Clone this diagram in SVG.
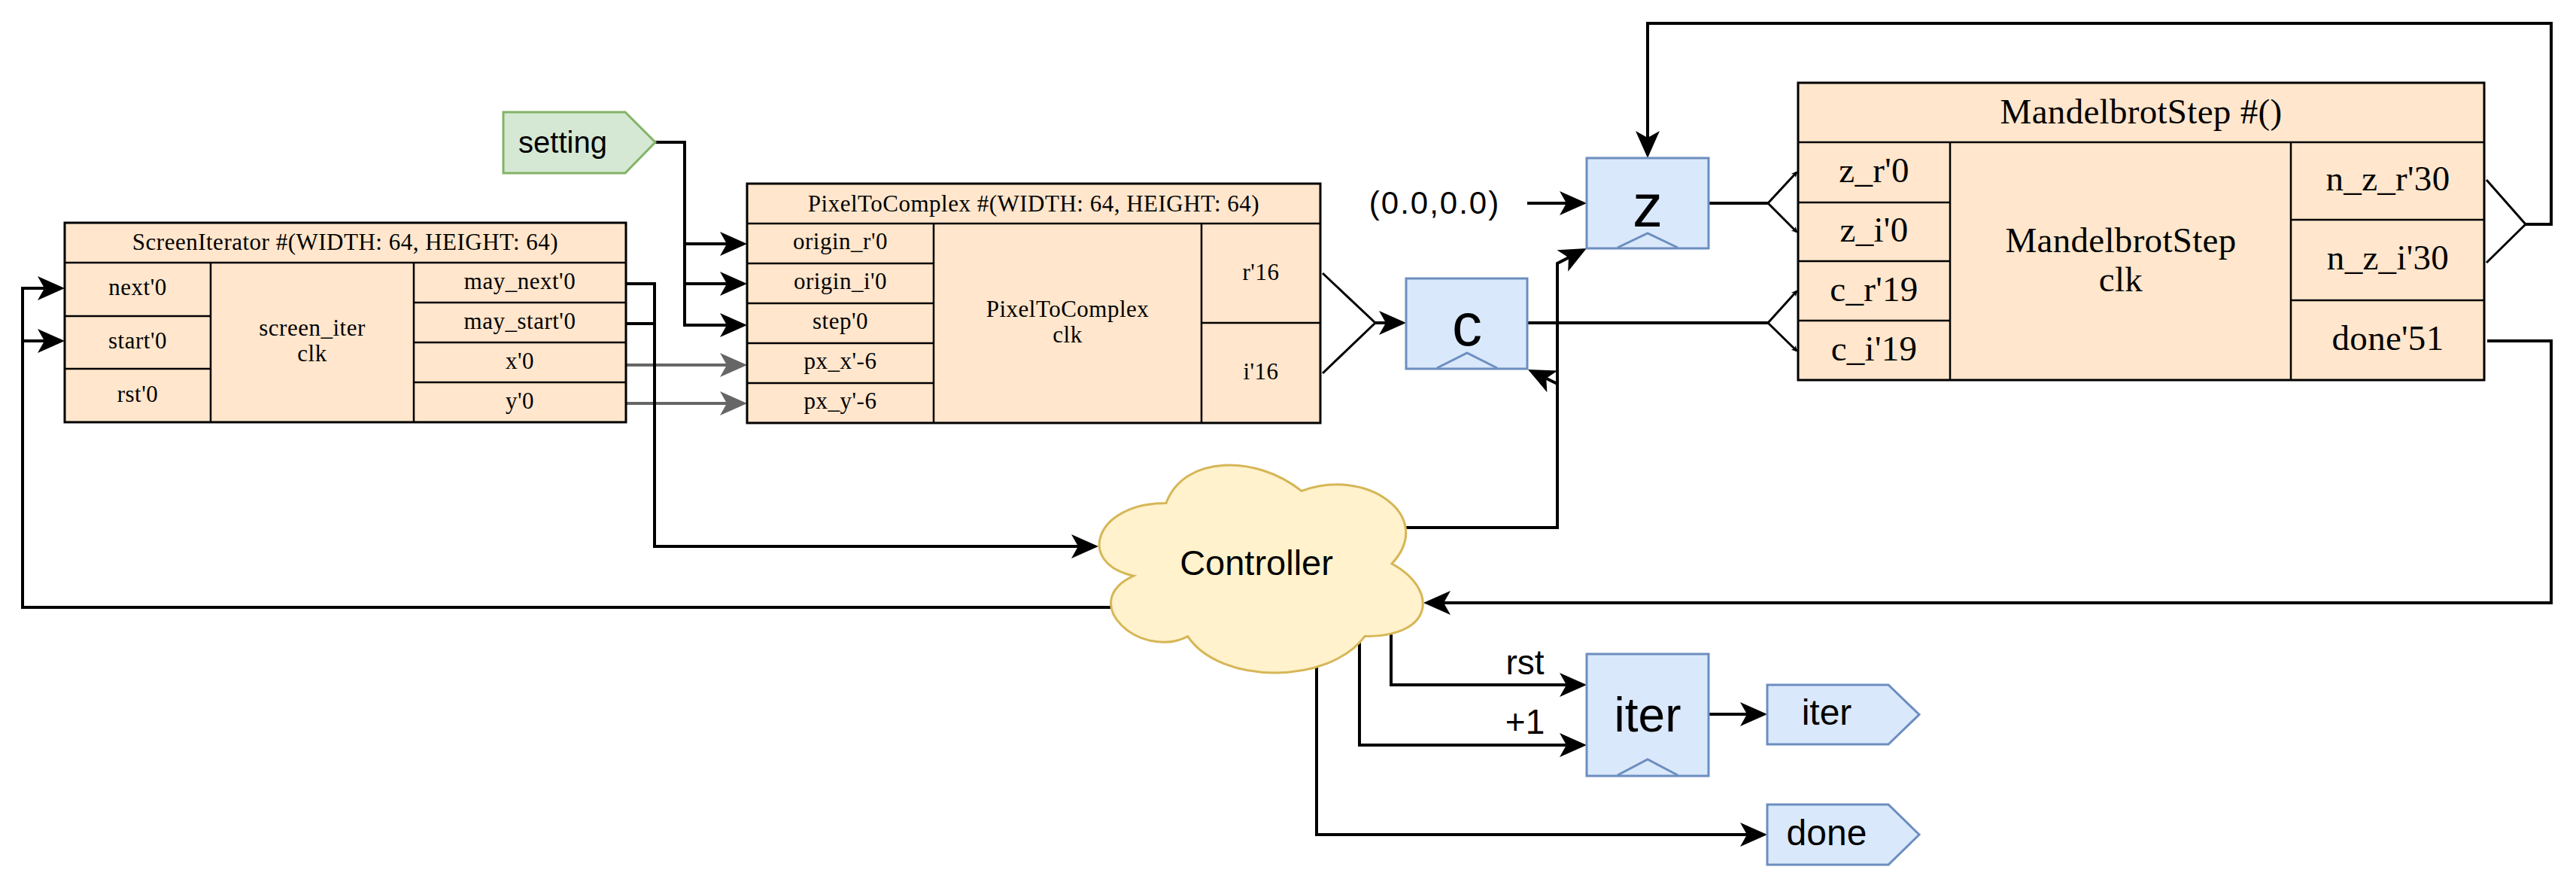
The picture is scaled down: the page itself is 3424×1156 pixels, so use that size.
<svg xmlns="http://www.w3.org/2000/svg" width="3424" height="1156" viewBox="0 0 3424 1156">
<style>
.bg{fill:#ffffff}
.blk{fill:#ffe6cc;stroke:#000;stroke-width:3}
.ln{fill:none;stroke:#000;stroke-width:2.5}
.reg{fill:#dae8fc;stroke:#6c8ebf;stroke-width:3}
.clkm{fill:none;stroke:#6c8ebf;stroke-width:3}
.outp{fill:#dae8fc;stroke:#6c8ebf;stroke-width:3}
.inp{fill:#d5e8d4;stroke:#82b366;stroke-width:3}
.cloud{fill:#fff2cc;stroke:#d6b656;stroke-width:3}
.serif{font-family:"Liberation Serif","Times New Roman",serif;font-size:31px;letter-spacing:0.5px;fill:#000;text-anchor:middle}
.serifL{font-family:"Liberation Serif","Times New Roman",serif;font-size:47px;letter-spacing:0.3px;fill:#000;text-anchor:middle}
.sans{font-family:"Liberation Sans",Arial,sans-serif;fill:#000;text-anchor:middle}
.c{fill:none;stroke:#000;stroke-width:4}
.cg{fill:none;stroke:#666666;stroke-width:4}
.ct{fill:none;stroke:#000;stroke-width:3}
.a{marker-end:url(#arr)}
.ag{marker-end:url(#arrg)}
.as{marker-end:url(#arrs)}
</style>
<defs>
<marker id="arr" viewBox="-32 -20 44 40" refX="0" refY="0" markerWidth="44" markerHeight="40" markerUnits="userSpaceOnUse" orient="auto" overflow="visible">
<path d="M8,0 L-28,-16 L-19,0 L-28,16 Z" fill="#000"/>
</marker>
<marker id="arrg" viewBox="-32 -20 44 40" refX="0" refY="0" markerWidth="44" markerHeight="40" markerUnits="userSpaceOnUse" orient="auto" overflow="visible">
<path d="M8,0 L-28,-16 L-19,0 L-28,16 Z" fill="#666666"/>
</marker>
<marker id="arrs" viewBox="-10 -6 14 12" refX="0" refY="0" markerWidth="14" markerHeight="12" markerUnits="userSpaceOnUse" orient="auto" overflow="visible">
<path d="M2,0 L-6,-4 L-4,0 L-6,4 Z" fill="#000"/>
</marker>
</defs>
<rect class="bg" x="0" y="0" width="3424" height="1156"/>

<g id="connectors">
<!-- setting to PixelToComplex -->
<path class="c a" d="M871,189 H910 V324 H985"/>
<path class="c a" d="M910,324 V377 H985"/>
<path class="c a" d="M910,377 V432 H985"/>
<!-- x, y to px -->
<path class="cg ag" d="M832,485 H985"/>
<path class="cg ag" d="M832,536 H985"/>
<!-- may_next / may_start to Controller -->
<path class="c a" d="M832,377 H870 V726 H1452"/>
<path class="c" d="M832,430 H870"/>
<!-- Controller to next / start -->
<path class="c a" d="M1480,807 H30 V383 H78"/>
<path class="c a" d="M30,453 H78"/>
<!-- PixelToComplex r,i to c -->
<path class="ct" d="M1758,363 L1828,429 L1758,496"/>
<path class="c a" d="M1828,429 H1861"/>
<!-- init to z -->
<path class="c a" d="M2030,270 H2101"/>
<!-- z to MandelbrotStep -->
<path class="c" d="M2271,270 H2350"/>
<path class="ct as" d="M2350,270 L2388,229"/>
<path class="ct as" d="M2350,270 L2388,308"/>
<!-- c to MandelbrotStep -->
<path class="c" d="M2030,429 H2350"/>
<path class="ct as" d="M2350,429 L2388,387"/>
<path class="ct as" d="M2350,429 L2388,466"/>
<!-- MandelbrotStep n_z to z -->
<path class="ct" d="M3305,239 L3357,298 L3305,349"/>
<path class="c a" d="M3357,298 H3391 V31 H2190 V202"/>
<!-- done'51 to Controller -->
<path class="c a" d="M3306,453 H3391 V801 H1900"/>
<!-- Controller to clocks -->
<path class="c a" d="M1866,701 H2070 V350 L2101.8,333.6"/>
<path class="c a" d="M2070,701 V510 L2038.2,494.5"/>
<!-- Controller to iter -->
<path class="c a" d="M1849,840 V910 H2101"/>
<path class="c a" d="M1807,852 V990 H2101"/>
<path class="c a" d="M1750,880 V1109 H2341"/>
<!-- iter to output -->
<path class="c a" d="M2271,949 H2341"/>
</g>

<g id="screen_iterator">
<rect class="blk" x="86" y="296" width="746" height="265"/>
<path class="ln" d="M86,349 H832 M280,349 V561 M550,349 V561 M86,420 H280 M86,490 H280 M550,402 H832 M550,455 H832 M550,508 H832"/>
<text class="serif" x="459" y="332">ScreenIterator #(WIDTH: 64, HEIGHT: 64)</text>
<text class="serif" x="183" y="392">next'0</text>
<text class="serif" x="183" y="463">start'0</text>
<text class="serif" x="183" y="534">rst'0</text>
<text class="serif" x="415" y="446">screen_iter</text>
<text class="serif" x="415" y="480">clk</text>
<text class="serif" x="691" y="384">may_next'0</text>
<text class="serif" x="691" y="437">may_start'0</text>
<text class="serif" x="691" y="490">x'0</text>
<text class="serif" x="691" y="543">y'0</text>
</g>

<g id="setting">
<path class="inp" d="M669,149 H831 L871,189 L831,230 H669 Z"/>
<text class="sans" x="748" y="203" font-size="40">setting</text>
</g>

<g id="pixel_to_complex">
<rect class="blk" x="993" y="244" width="762" height="318"/>
<path class="ln" d="M993,297 H1755 M1241,297 V562 M1597,297 V562 M993,350 H1241 M993,403 H1241 M993,456 H1241 M993,509 H1241 M1597,429 H1755"/>
<text class="serif" x="1374" y="281">PixelToComplex #(WIDTH: 64, HEIGHT: 64)</text>
<text class="serif" x="1117" y="331">origin_r'0</text>
<text class="serif" x="1117" y="384">origin_i'0</text>
<text class="serif" x="1117" y="437">step'0</text>
<text class="serif" x="1117" y="490">px_x'-6</text>
<text class="serif" x="1117" y="543">px_y'-6</text>
<text class="serif" x="1419" y="421">PixelToComplex</text>
<text class="serif" x="1419" y="455">clk</text>
<text class="serif" x="1676" y="372">r'16</text>
<text class="serif" x="1676" y="504">i'16</text>
</g>

<g id="init_value">
<text class="sans" x="1907" y="284" font-size="42" letter-spacing="2">(0.0,0.0)</text>
</g>

<g id="reg_c">
<rect class="reg" x="1869" y="370" width="161" height="120"/>
<path class="clkm" d="M1910,489 L1950,469 L1990,489"/>
<text class="sans" x="1950" y="459" font-size="80">c</text>
</g>

<g id="reg_z">
<rect class="reg" x="2109" y="210" width="162" height="120"/>
<path class="clkm" d="M2150,329 L2190,310 L2230,329"/>
<text class="sans" x="2190" y="301" font-size="80">z</text>
</g>

<g id="mandelbrot_step">
<rect class="blk" x="2390" y="110" width="912" height="395"/>
<path class="ln" d="M2390,189 H3302 M2592,189 V505 M3045,189 V505 M2390,269 H2592 M2390,347 H2592 M2390,426 H2592 M3045,292 H3302 M3045,399 H3302"/>
<text class="serifL" x="2846" y="164">MandelbrotStep #()</text>
<text class="serifL" x="2491" y="242">z_r'0</text>
<text class="serifL" x="2491" y="321">z_i'0</text>
<text class="serifL" x="2491" y="400">c_r'19</text>
<text class="serifL" x="2491" y="479">c_i'19</text>
<text class="serifL" x="2819" y="335">MandelbrotStep</text>
<text class="serifL" x="2819" y="387">clk</text>
<text class="serifL" x="3174" y="253">n_z_r'30</text>
<text class="serifL" x="3174" y="358">n_z_i'30</text>
<text class="serifL" x="3174" y="465">done'51</text>
</g>

<g id="controller">
<path class="cloud" d="M1550,668.5 C1454,668.5 1430,749 1506.8,765.1 C1430,800.5 1516.4,877.8 1578.8,845.6 C1622,910 1766,910 1814,845.6 C1910,845.6 1910,781.2 1850,749 C1910,684.6 1814,620.2 1730,652.4 C1670,604.1 1574,604.1 1550,668.5 Z"/>
<text class="sans" x="1670" y="764" font-size="47">Controller</text>
</g>

<g id="labels">
<text class="sans" x="2027" y="896" font-size="46">rst</text>
<text class="sans" x="2027" y="975" font-size="46">+1</text>
</g>

<g id="reg_iter">
<rect class="reg" x="2109" y="869" width="162" height="162"/>
<path class="clkm" d="M2150,1030 L2190,1009 L2230,1030"/>
<text class="sans" x="2190" y="972" font-size="64">iter</text>
</g>

<g id="out_iter">
<path class="outp" d="M2349,910 H2510 L2551,949.5 L2510,989 H2349 Z"/>
<text class="sans" x="2428" y="963" font-size="48">iter</text>
</g>

<g id="out_done">
<path class="outp" d="M2349,1069 H2510 L2551,1109 L2510,1149 H2349 Z"/>
<text class="sans" x="2428" y="1123" font-size="48">done</text>
</g>
</svg>
